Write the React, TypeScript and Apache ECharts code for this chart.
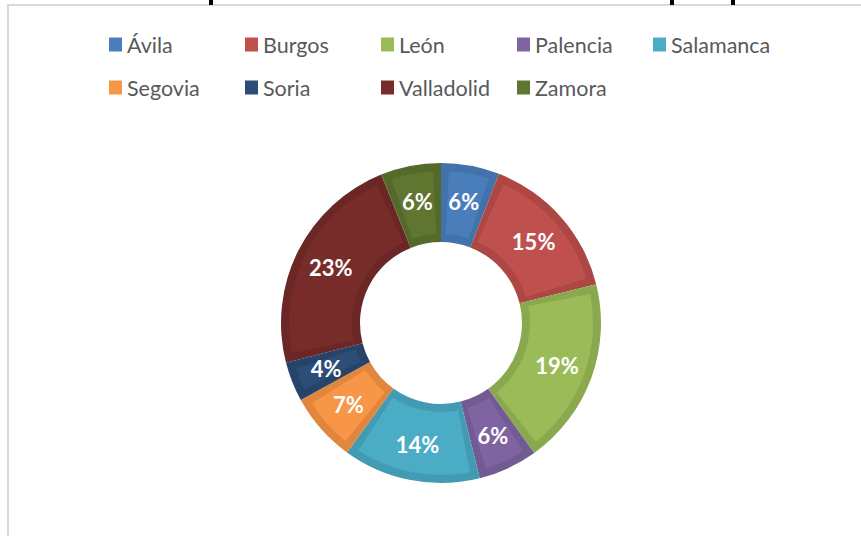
import React, { useEffect, useRef } from "react";
import * as echarts from "echarts";

const provinces = ["Ávila", "Burgos", "León", "Palencia", "Salamanca", "Segovia", "Soria", "Valladolid", "Zamora"];
const shares = [5.9, 15.2, 19.0, 6.0, 13.9, 7.0, 4.0, 22.9, 6.1];
const mainColors = ["#4A7EBB", "#C0504D", "#9BBB59", "#8064A2", "#4BACC6", "#F79646", "#2C4D75", "#772C2A", "#5F7530"];
const edgeColors = ["#4272AA", "#AD4744", "#8AA94F", "#725A92", "#439BB3", "#E0863D", "#264469", "#6A2725", "#546A2A"];

export default function App() {
  const ref = useRef<HTMLDivElement>(null);
  useEffect(() => {
    if (!ref.current) return;
    const chart = echarts.init(ref.current, null, { renderer: "svg" });
    const legendData = provinces.map((name, i) => ({ name, itemStyle: { color: mainColors[i] } }));
    chart.setOption({
      animation: false,
      backgroundColor: "#ffffff",
      legend: {
        data: legendData,
        left: 109,
        top: 23,
        width: 690,
        padding: 0,
        itemGap: 0,
        itemWidth: 13,
        itemHeight: 14,
        icon: "rect",
        selectedMode: false,
        textStyle: {
          fontFamily: "Lato",
          fontSize: 21.5,
          color: "#595959",
          width: 118,
          lineHeight: 43,
        },
      },
      graphic: [
        { type: "rect", shape: { x: 8, y: 5, width: 900, height: 600 }, style: { fill: "none", stroke: "#D9D9D9", lineWidth: 2 }, z: -1 },
        { type: "rect", shape: { x: 209, y: 0, width: 4, height: 5 }, style: { fill: "#000" } },
        { type: "rect", shape: { x: 670, y: 0, width: 4, height: 5 }, style: { fill: "#000" } },
        { type: "rect", shape: { x: 731, y: 0, width: 4, height: 5 }, style: { fill: "#000" } },
      ],
      series: [
        {
          type: "pie",
          name: "base",
          center: [441, 323],
          radius: [81, 160],
          startAngle: 90,
          clockwise: true,
          label: { show: false },
          labelLine: { show: false },
          emphasis: { disabled: true },
          silent: true,
          z: 1,
          data: provinces.map((name, i) => ({ name, value: shares[i], itemStyle: { color: edgeColors[i] } })),
        },
        {
          type: "pie",
          name: "face",
          center: [441, 323],
          radius: [89, 152],
          startAngle: 90,
          clockwise: true,
          padAngle: 6,
          emphasis: { disabled: true },
          silent: true,
          z: 2,
          label: {
            show: true,
            position: "inside",
            color: "#ffffff",
            fontFamily: "Lato",
            fontWeight: "bold",
            fontSize: 22,
            formatter: (p: any) => Math.round(p.percent) + "%",
          },
          labelLine: { show: false },
          data: provinces.map((name, i) => ({ name, value: shares[i], itemStyle: { color: mainColors[i] } })),
        },
      ],
    });
    return () => chart.dispose();
  }, []);
  return <div ref={ref} style={{ position: "absolute", left: 0, top: 0, width: 861, height: 536 }} />;
}
